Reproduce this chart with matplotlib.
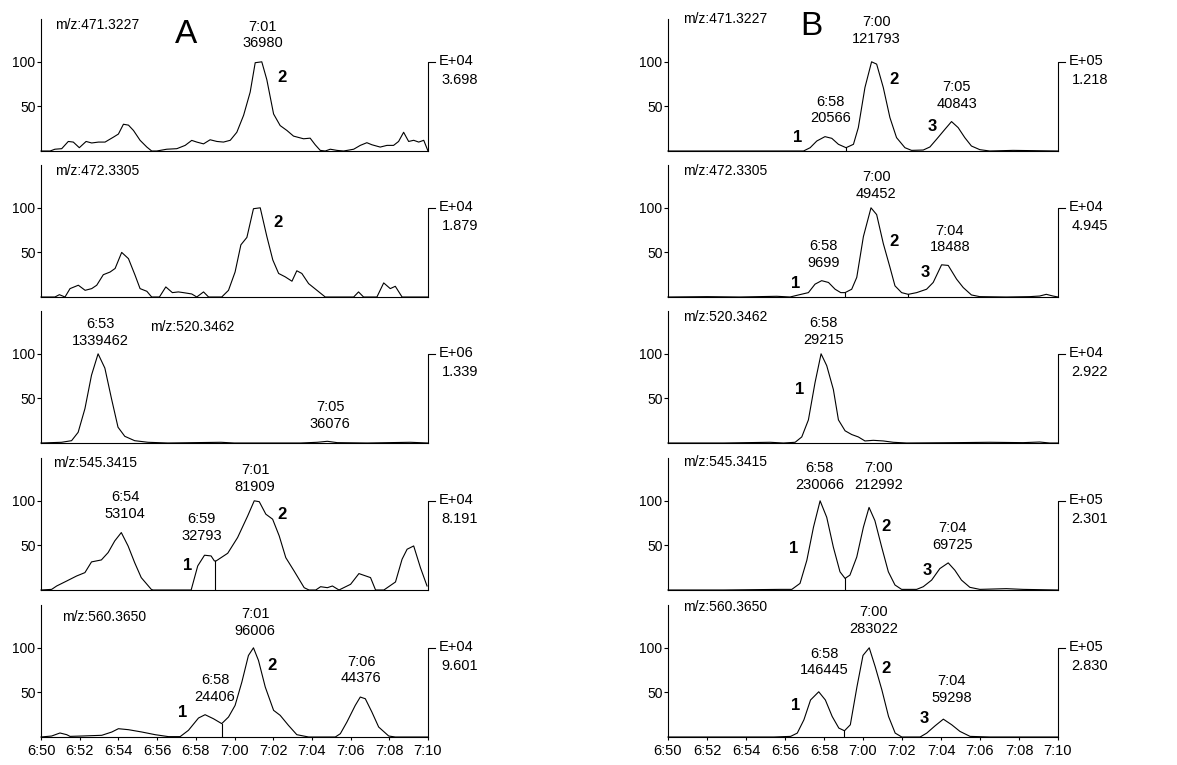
import numpy as np
import matplotlib
matplotlib.use('Agg')
import matplotlib.pyplot as plt

plt.rcParams['font.family'] = ['Liberation Sans', 'DejaVu Sans']

# ---------------- data (time in seconds from 0:00, 410 s = 6:50) ----------------
a1_t = [410.00, 410.47, 410.72, 411.07, 411.41, 411.67, 411.98, 412.33, 412.62, 412.97, 413.31, 413.74,
        414.00, 414.26, 414.52, 414.78, 415.12, 415.47, 415.72, 415.98, 416.50, 417.02, 417.45, 417.79,
        418.05, 418.40, 418.74, 419.09, 419.43, 419.78, 420.12, 420.47, 420.81, 421.07, 421.41, 421.67,
        422.02, 422.36, 422.71, 423.05, 423.57, 423.91, 424.17, 424.43, 424.69, 424.95, 425.29, 425.64,
        426.16, 426.50, 426.84, 427.10, 427.53, 427.88, 428.22, 428.48, 428.74, 429.00, 429.26, 429.52,
        429.78, 430.00]
a1_y = [0, 0, 2, 2.6, 10.7, 10, 3.7, 10.7, 9, 10, 10, 15.5,
        19, 30, 29, 23, 12, 4.4, 0, 0, 2, 2.6, 6.3, 11.9,
        10, 8, 12.6, 10.7, 10, 12, 21, 40, 66, 99, 100, 80,
        41.5, 28.5, 23, 16.7, 13.7, 14.4, 7, 0.7, 0, 2, 0.7, 0,
        2, 6.3, 9.3, 7, 4.4, 6.3, 6.3, 10.7, 21, 10.7, 12, 10,
        12, 0]

a2_t = [410.00, 410.72, 410.95, 411.24, 411.50, 411.93, 412.28, 412.62, 412.88, 413.22, 413.57, 413.83,
        414.17, 414.52, 414.86, 415.12, 415.47, 415.72, 416.12, 416.45, 416.79, 417.10, 417.36, 417.79,
        418.05, 418.40, 418.66, 419.34, 419.69, 420.03, 420.33, 420.64, 420.98, 421.33, 421.67, 421.98,
        422.28, 422.62, 422.97, 423.22, 423.48, 423.83, 424.26, 424.69, 426.16, 426.41, 426.67, 427.36,
        427.71, 428.05, 428.31, 428.66, 430.00]
a2_y = [0, 0, 2.6, 0, 9.4, 13.2, 7.5, 9.4, 13.2, 25, 28, 32,
        50, 43, 24.5, 9.4, 6.4, 0, 0, 11.3, 4.9, 5.7, 4.9, 3.4,
        0, 5.7, 0, 0, 7.5, 28, 58.5, 66.8, 99, 100, 68, 41.5,
        26.4, 22.6, 17.7, 29.4, 26.4, 15, 7.5, 0, 0, 5.7, 0, 0,
        15.8, 9.4, 12, 0, 0]

a3_t = [410.00, 411.06, 411.58, 411.92, 412.27, 412.61, 412.95, 413.30, 413.64, 413.98, 414.33, 414.84,
        415.53, 416.56, 419.30, 419.99, 421.71, 423.42, 424.28, 424.80, 425.31, 426.86, 429.09, 430.00]
a3_y = [0, 0.8, 2.6, 12, 38.5, 76, 100, 84, 50, 17.7, 7.5, 2.6,
        0.8, 0, 0.8, 0, 0, 0, 0.8, 1.9, 0.4, 0, 0.8, 0]

a4_t = [410.00, 410.55, 410.81, 411.32, 411.84, 412.27, 412.61, 413.12, 413.47, 413.81, 414.15, 414.50,
        414.84, 415.18, 415.70, 415.79, 417.76, 418.10, 418.45, 418.79, 418.96, 419.05, 419.65, 420.16,
        420.68, 421.02, 421.28, 421.62, 421.97, 422.31, 422.65, 423.08, 423.60, 423.85, 424.20, 424.45,
        424.80, 425.06, 425.40, 426.00, 426.43, 427.03, 427.29, 427.72, 428.32, 428.66, 428.92, 429.26,
        429.61, 429.95]
a4_y = [0, 0.7, 4.5, 10, 15.7, 19.5, 31.5, 33.7, 42, 55, 64.4, 49.4,
        30.7, 13.9, 0.7, 0, 0, 27, 39, 38.2, 32.6, 32.6, 41.2, 58.8,
        83, 100, 99, 85, 79.4, 60.7, 36.3, 21.3, 2.6, 0, 0, 3.7,
        2.6, 4.5, 0, 6.4, 18.4, 13.9, 0, 0, 9, 34.5, 45.7, 49.4,
        25, 4.5]

a5_t = [410.00, 410.55, 410.98, 411.33, 411.50, 412.10, 413.14, 413.66, 414.00, 414.52, 415.21, 415.90,
        416.59, 417.19, 417.62, 418.14, 418.48, 418.91, 419.34, 419.69, 420.03, 420.38, 420.72, 420.98,
        421.24, 421.59, 422.02, 422.36, 422.79, 423.22, 423.83, 425.21, 425.47, 425.81, 426.24, 426.50,
        426.76, 427.10, 427.45, 427.97, 428.31, 430.00]
a5_y = [0, 1.1, 4.5, 2.6, 0.7, 1.1, 1.9, 5.6, 9.3, 8.2, 5.6, 2.6,
        0.4, 0.4, 7.5, 21.3, 25, 20.5, 15, 22.4, 35.4, 61.6, 91.4, 100,
        85.8, 56, 29.9, 24.3, 13, 2.6, 0, 0, 3.7, 16.8, 35.4, 44.8,
        42.9, 28, 11.2, 1.1, 0, 0]

b1_t = [410.00, 416.95, 417.29, 417.63, 418.05, 418.40, 418.74, 419.13, 419.51, 419.76, 420.10, 420.44,
        420.70, 421.04, 421.38, 421.72, 422.15, 422.49, 423.09, 423.43, 423.77, 424.20, 424.54, 424.88,
        425.22, 425.56, 425.99, 426.50, 427.70, 430.00]
b1_y = [0, 0, 3.7, 11.2, 16.1, 14.2, 7.5, 3.7, 7.5, 26.2, 71.2, 100,
        97.4, 71.2, 37.5, 15, 3.7, 0.7, 1.1, 4.5, 13.1, 24.3, 33, 26.2,
        15, 5.6, 1.5, 0, 0.7, 0]

b2_t = [410.00, 412.00, 413.70, 415.58, 416.26, 416.69, 417.20, 417.54, 417.88, 418.23, 418.57, 418.86,
        419.08, 419.42, 419.68, 420.02, 420.41, 420.70, 421.04, 421.38, 421.64, 421.98, 422.32, 422.75,
        423.26, 423.60, 424.03, 424.37, 424.80, 425.14, 425.56, 425.99, 427.35, 428.55, 429.06, 429.40,
        429.74, 430.00]
b2_y = [0, 0.4, 0, 0.8, 0, 2.3, 4.9, 14.4, 18.3, 16.3, 8.7, 4.9,
        4.9, 8.7, 22, 67.7, 100, 92.4, 60, 33.5, 12.5, 4.9, 3, 4.9,
        8.7, 16.3, 36.1, 35.4, 20, 10.6, 2.3, 0.4, 0, 0.4, 1.1, 3,
        1.1, 0]

b3_t = [410.00, 412.85, 415.24, 415.92, 416.52, 416.86, 417.20, 417.54, 417.85, 418.14, 418.48, 418.74,
        419.08, 419.42, 419.76, 420.10, 420.53, 421.04, 421.55, 422.24, 424.80, 426.50, 428.21, 429.06,
        429.57, 430.00]
b3_y = [0, 0, 0.8, 0, 0.8, 6.8, 25.9, 67.7, 100, 86.7, 60, 25.9,
        13.7, 9.5, 6.8, 2.3, 3, 2.3, 0.8, 0, 0.4, 0.8, 0.4, 1.1,
        0, 0]

b4_t = [410.00, 412.85, 415.75, 416.35, 416.77, 417.12, 417.46, 417.80, 418.14, 418.48, 418.82, 419.08,
        419.33, 419.68, 420.02, 420.31, 420.61, 420.96, 421.30, 421.64, 421.98, 422.75, 423.09, 423.52,
        423.94, 424.37, 424.71, 425.05, 425.48, 425.99, 427.35, 428.21, 430.00]
b4_y = [0, 0, 0.7, 0.7, 7.4, 33.3, 70.4, 100, 81.5, 48, 20.4, 13,
        16.7, 37, 70.4, 92.6, 77.8, 48, 20.4, 5.6, 0.7, 0.7, 3.7, 11.1,
        24, 30.4, 22.2, 11.1, 3, 0.7, 1.5, 0.7, 0]

b5_t = [410.00, 415.43, 416.29, 416.63, 416.97, 417.31, 417.73, 418.07, 418.42, 418.76, 419.05, 419.35,
        419.69, 420.00, 420.32, 420.63, 420.97, 421.31, 421.65, 421.99, 422.93, 423.27, 423.70, 424.12,
        424.55, 424.97, 425.49, 426.51, 430.00]
b5_y = [0, 0, 0.7, 4.4, 19.3, 41.5, 50.7, 41.5, 23, 10, 7, 13.7,
        56.3, 91.5, 100, 78.5, 52.6, 23, 4.4, 0, 0, 4.4, 12.6, 20,
        13.7, 6.3, 0.7, 0, 0]

mz_labels = ['m/z:471.3227', 'm/z:472.3305', 'm/z:520.3462', 'm/z:545.3415', 'm/z:560.3650']
exponents_a = ['E+04', 'E+04', 'E+06', 'E+04', 'E+04']
scales_a = ['3.698', '1.879', '1.339', '8.191', '9.601']
exponents_b = ['E+05', 'E+04', 'E+04', 'E+05', 'E+05']
scales_b = ['1.218', '4.945', '2.922', '2.301', '2.830']

# peak apex labels: (time, y, text)
peaks_a = [
    [(421.45, 130, '7:01\n36980')],
    [],
    [(413.05, 124, '6:53\n1339462'), (424.95, 31, '7:05\n36076')],
    [(414.34, 95, '6:54\n53104'), (418.30, 70, '6:59\n32793'), (421.06, 125, '7:01\n81909')],
    [(418.99, 54, '6:58\n24406'), (421.06, 128, '7:01\n96006'), (426.54, 75, '7:06\n44376')],
]
peaks_b = [
    [(418.34, 46, '6:58\n20566'), (420.67, 135, '7:00\n121793'), (424.80, 62, '7:05\n40843')],
    [(417.97, 48, '6:58\n9699'), (420.67, 125, '7:00\n49452'), (424.46, 65, '7:04\n18488')],
    [(417.97, 125, '6:58\n29215')],
    [(417.79, 127, '6:58\n230066'), (420.78, 127, '7:00\n212992'), (424.60, 60, '7:04\n69725')],
    [(418.00, 84, '6:58\n146445'), (420.53, 131, '7:00\n283022'), (424.55, 53, '7:04\n59298')],
]
# peak numbers: (time, y, text)
nums_a = [
    [(422.45, 82, '2')],
    [(422.25, 83, '2')],
    [],
    [(417.57, 28, '1'), (422.48, 85, '2')],
    [(417.31, 27, '1'), (421.92, 80, '2')],
]
nums_b = [
    [(416.63, 15, '1'), (421.59, 80, '2'), (423.55, 27, '3')],
    [(416.56, 15, '1'), (421.59, 62, '2'), (423.18, 27, '3')],
    [(416.73, 60, '1')],
    [(416.46, 46, '1'), (421.20, 71, '2'), (423.27, 22, '3')],
    [(416.56, 35, '1'), (421.18, 77, '2'), (423.13, 21, '3')],
]
# positions of m/z label (time, y)
mz_pos_a = [(410.72, 141), (410.72, 141), (415.63, 130), (410.62, 142), (411.10, 134)]
mz_pos_b = [(410.75, 148), (410.75, 141), (410.75, 141), (410.75, 143), (410.75, 146)]
# peak-split drop lines (time)
drops_a = [[], [], [], [419.01], [419.34]]
drops_b = [[419.13], [419.08, 422.32], [], [419.08], [419.05]]

traces_a = [(a1_t, a1_y), (a2_t, a2_y), (a3_t, a3_y), (a4_t, a4_y), (a5_t, a5_y)]
traces_b = [(b1_t, b1_y), (b2_t, b2_y), (b3_t, b3_y), (b4_t, b4_y), (b5_t, b5_y)]

xticks = list(range(410, 431, 2))
xticklabels = ['%d:%02d' % (s // 60, s % 60) for s in xticks]

# ---------------- figure ----------------
W, H = 1177, 765
fig = plt.figure(figsize=(W / 100, H / 100), dpi=100)
col_left = [41, 668]
col_width = [387, 390]
baselines = [151, 297, 443, 590, 737]
ax_h = 132

cols = [
    (traces_a, mz_pos_a, exponents_a, scales_a, peaks_a, nums_a, drops_a, 'A', (417.5, 131)),
    (traces_b, mz_pos_b, exponents_b, scales_b, peaks_b, nums_b, drops_b, 'B', (417.35, 140)),
]

lw = 0.8
for c, (traces, mzpos, exps, scs, pks, nms, drs, letter, lpos) in enumerate(cols):
    for r in range(5):
        ax = fig.add_axes([col_left[c] / W, 1 - baselines[r] / H, col_width[c] / W, ax_h / H])
        t, y = traces[r]
        ax.plot(t, y, color='black', lw=lw, clip_on=False)
        for d in drs[r]:
            ax.plot([d, d], [0, np.interp(d, t, y)], color='black', lw=lw)
        ax.set_xlim(410, 430)
        ax.set_ylim(0, 148)
        for s in ['top', 'right']:
            ax.spines[s].set_visible(False)
        for s in ['left', 'bottom']:
            ax.spines[s].set_linewidth(lw)
        ax.set_yticks([50, 100])
        ax.set_yticklabels(['50', '100'])
        ax.tick_params(axis='y', length=3, width=lw, labelsize=10, pad=1)
        ax.set_xticks(xticks)
        if r == 4:
            ax.set_xticklabels(xticklabels)
            ax.tick_params(axis='x', length=2, width=lw, labelsize=10.5, pad=3)
        else:
            ax.set_xticklabels([])
            ax.tick_params(axis='x', length=0)
        # right bracket
        ax.plot([430, 430, 430.35], [0, 100, 100], color='black', lw=lw, clip_on=False)
        ax.text(430.55, 101, exps[r], ha='left', va='center', fontsize=10.5)
        ax.text(430.7, 80, scs[r], ha='left', va='center', fontsize=10.5)
        ax.text(mzpos[r][0], mzpos[r][1], mz_labels[r], ha='left', va='center', fontsize=10)
        for (pt, py, s) in pks[r]:
            ax.text(pt, py, s, ha='center', va='center', fontsize=10.5, linespacing=1.25)
        for (pt, py, s) in nms[r]:
            ax.text(pt, py, s, ha='center', va='center', fontsize=12, fontweight='bold')
        if r == 0:
            ax.text(lpos[0], lpos[1], letter, ha='center', va='center', fontsize=24)

fig.savefig('out.png', dpi=100)
